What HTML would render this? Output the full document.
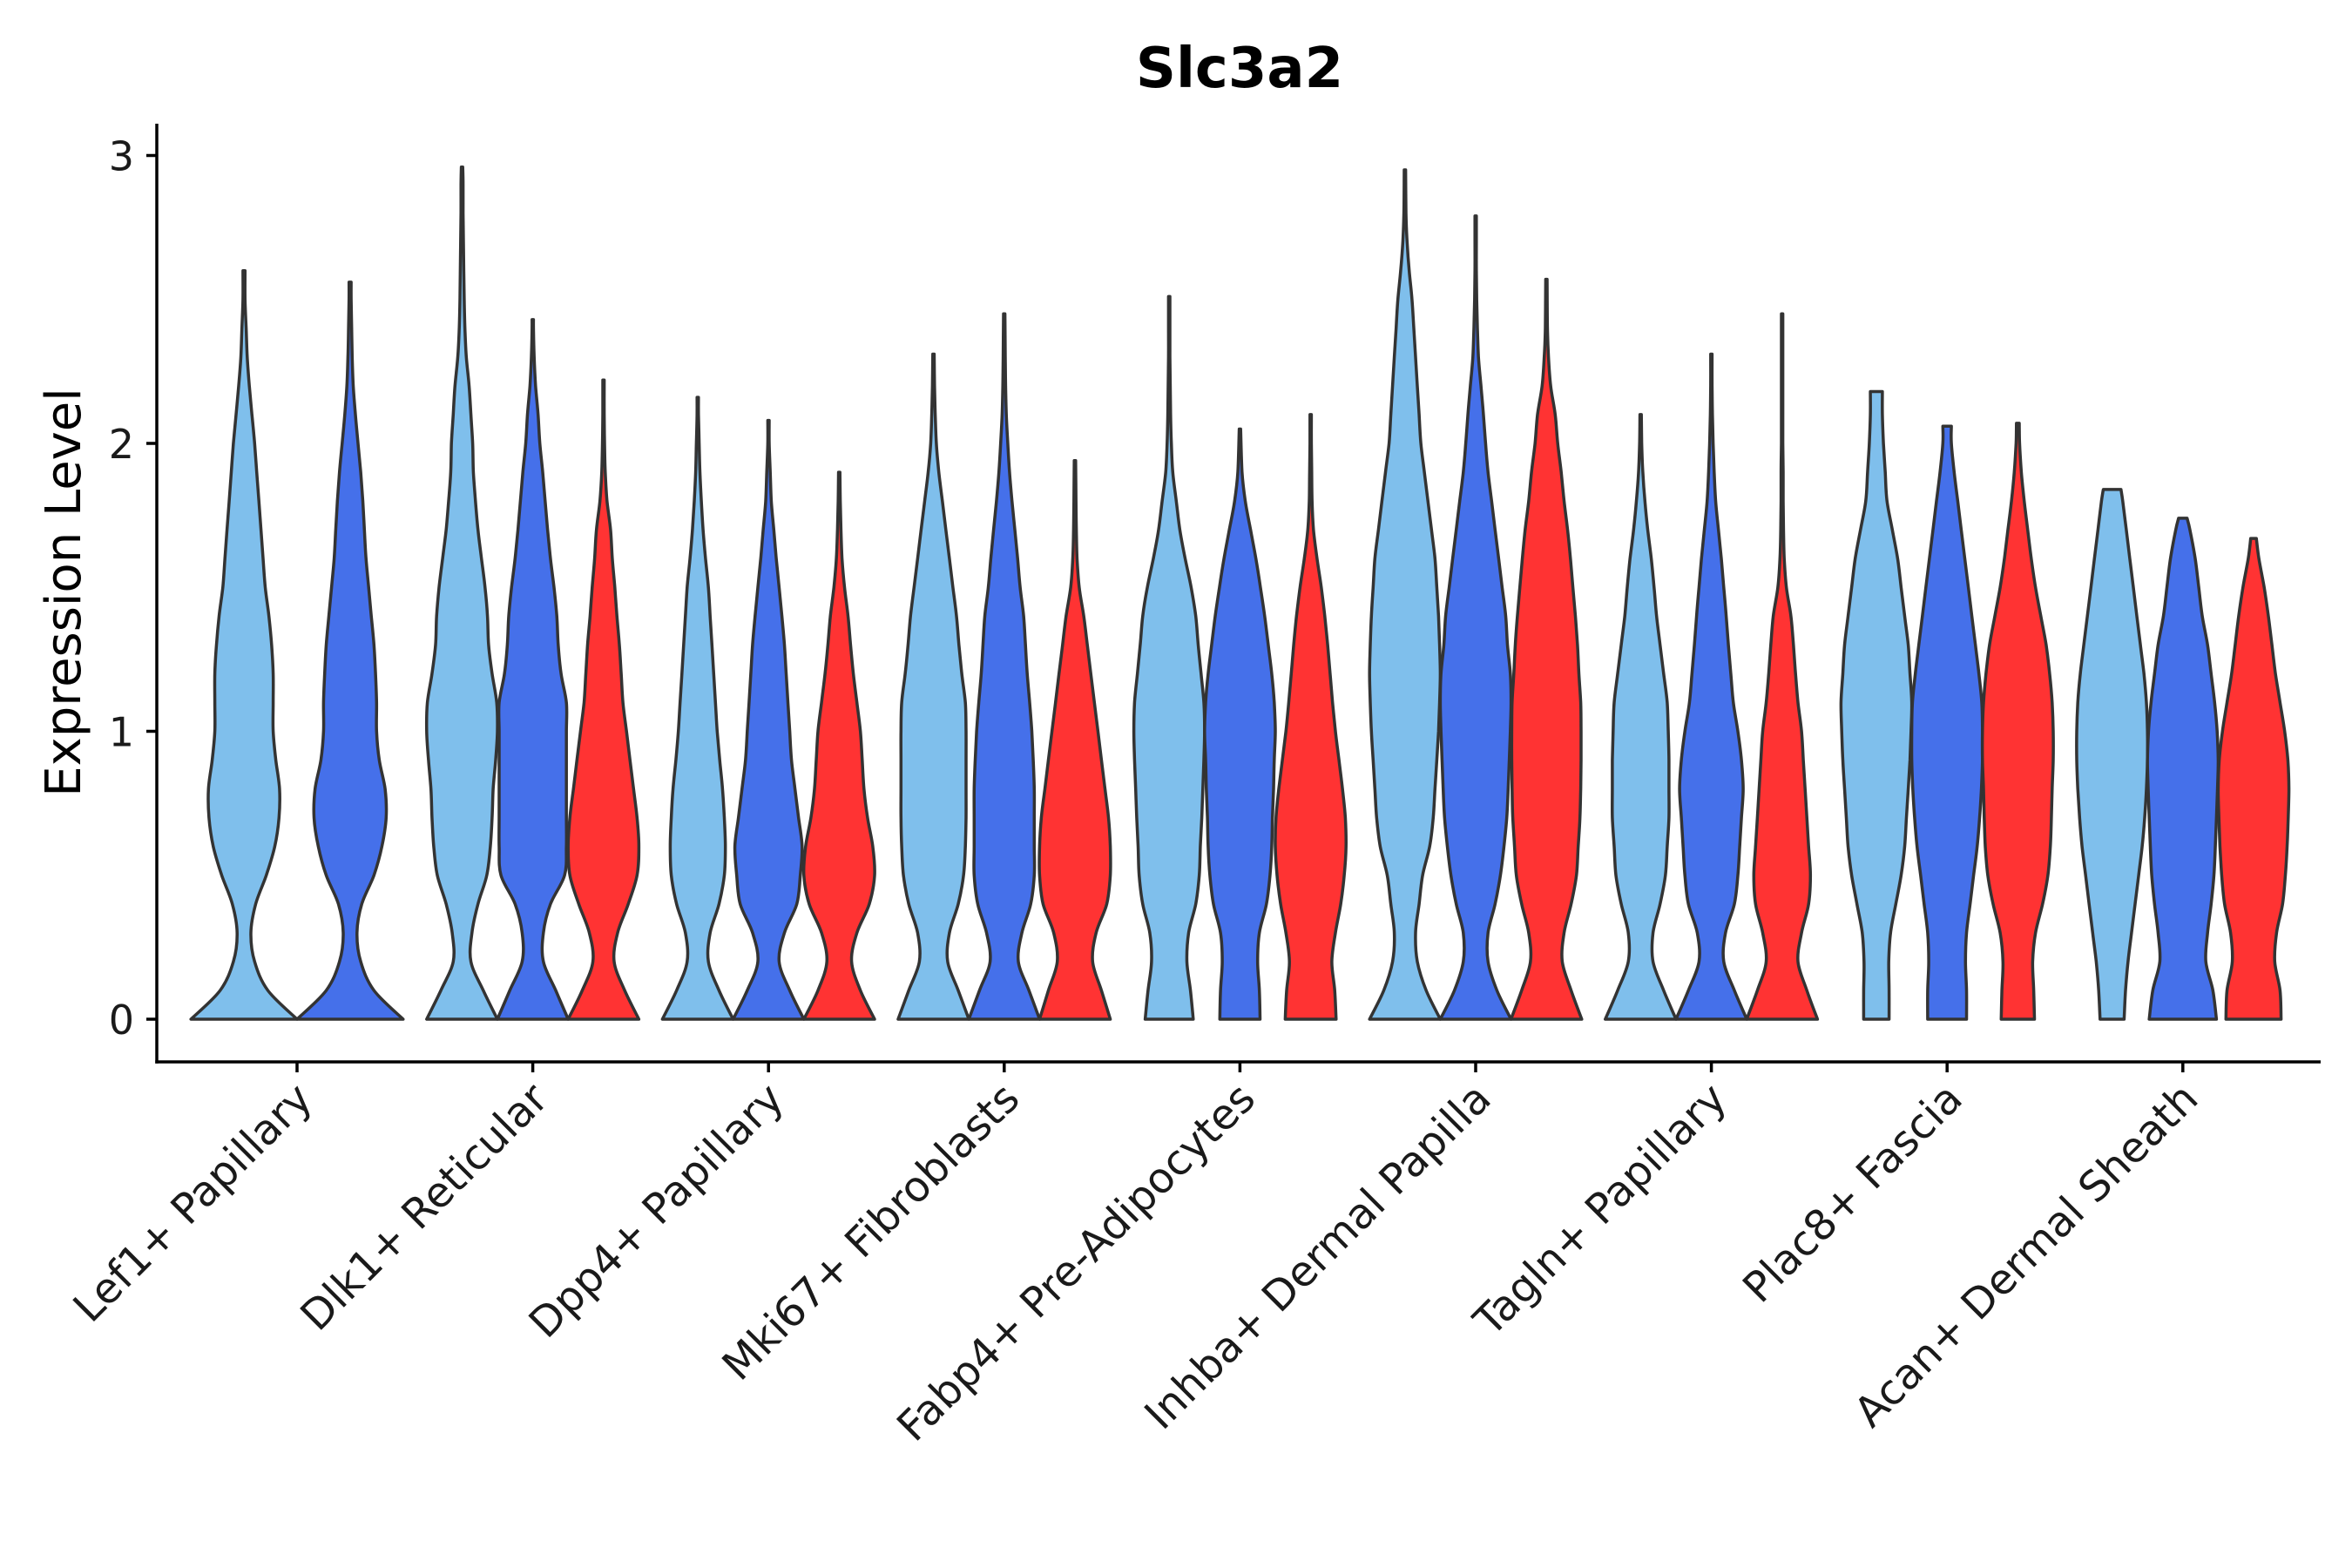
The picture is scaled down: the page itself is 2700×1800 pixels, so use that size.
<!DOCTYPE html>
<html><head><meta charset="utf-8"><style>
html,body{margin:0;padding:0;background:#fff;}
svg{display:block;font-family:"DejaVu Sans","Liberation Sans",sans-serif;}
</style></head><body>
<svg id="chart" width="2700" height="1800" viewBox="0 0 2700 1800" xmlns="http://www.w3.org/2000/svg">
<rect x="0" y="0" width="2700" height="1800" fill="#fff"/>
<text x="1423" y="100" text-anchor="middle" font-size="64" font-weight="bold" fill="#000">Slc3a2</text>
<text transform="translate(92,680) rotate(-90)" text-anchor="middle" font-size="56" fill="#000">Expression Level</text>
<g id="violins"></g>
<g id="axes"></g>
</svg>
<script>
const categories = ["Lef1+ Papillary","Dlk1+ Reticular","Dpp4+ Papillary","Mki67+ Fibroblasts","Fabp4+ Pre-Adipocytes","Inhba+ Dermal Papilla","Tagln+ Papillary","Plac8+ Fascia","Acan+ Dermal Sheath"];
const yTicks = [0,1,2,3];
const seriesColors = ["#7FBFEC","#4570EA","#FF3333"];
const violinMax = [
 [2.6,2.56],[2.96,2.43,2.22],[2.16,2.08,1.9],[2.31,2.45,1.94],[2.51,2.05,2.1],[2.95,2.79,2.57],[2.1,2.31,2.45],[2.18,2.06,2.07],[1.84,1.74,1.67]
];
const violinSeries = [[0,1],[0,1,2],[0,1,2],[0,1,2],[0,1,2],[0,1,2],[0,1,2],[0,1,2],[0,1,2]];
const violinTopWidth = [[.02,.02],[.02,.02,.02],[.02,.02,.02],[.02,.02,.02],[.02,.02,.02],[.02,.02,.02],[.02,.02,.02],[.17,.12,.04],[.25,.12,.08]];
const violinWidths = [
 [[1.0,.45,.2,.13,.22,.42,.58,.66,.67,.6,.55,.55,.55,.52,.47,.4,.36,.32,.28,.24,.2,.15,.1,.06,.04,.02],
  [1.0,.45,.2,.13,.22,.45,.6,.68,.66,.55,.5,.5,.48,.45,.4,.35,.3,.27,.24,.2,.15,.1,.06,.04,.03,.02]],
 [[1.0,.6,.25,.28,.45,.7,.8,.85,.88,.95,1.0,.98,.85,.75,.72,.65,.55,.45,.38,.32,.3,.25,.2,.12,.08,.06,.05,.04,.03,.03],
  [1.0,.65,.3,.3,.5,.9,.95,.95,.95,.95,.95,.95,.8,.72,.68,.6,.5,.42,.35,.28,.2,.15,.08,.04,.02],
  [1.0,.6,.3,.4,.7,.95,1.0,.95,.85,.75,.65,.55,.5,.45,.38,.32,.25,.2,.1,.05,.03,.02]],
 [[1.0,.6,.3,.35,.6,.75,.78,.75,.7,.62,.55,.5,.45,.4,.35,.3,.22,.15,.1,.06,.04,.02],
  [1.0,.6,.3,.45,.8,.9,.95,.85,.75,.65,.6,.55,.5,.45,.38,.3,.22,.15,.08,.05,.02],
  [1.0,.6,.35,.5,.85,1.0,.95,.8,.7,.65,.6,.5,.4,.32,.25,.15,.08,.05,.03]],
 [[1.0,.7,.4,.45,.7,.85,.9,.92,.92,.92,.92,.9,.8,.72,.65,.55,.45,.35,.25,.15,.08,.05,.03],
  [1.0,.7,.4,.5,.75,.85,.85,.85,.85,.82,.78,.72,.65,.6,.55,.45,.38,.3,.22,.15,.1,.06,.04,.03],
  [1.0,.75,.5,.6,.9,1.0,1.0,.95,.85,.75,.65,.55,.45,.35,.25,.12,.06,.04,.03]],
 [[.68,.6,.5,.55,.75,.85,.88,.92,.95,.98,1.0,.98,.9,.82,.75,.62,.45,.3,.2,.1,.06,.04,.03,.02,.02],
  [.57,.55,.5,.55,.75,.85,.9,.92,.95,.97,1.0,.97,.9,.8,.7,.58,.45,.3,.15,.06],
  [.72,.68,.6,.7,.85,.95,1.0,.98,.9,.8,.7,.62,.55,.48,.4,.3,.18,.08,.04,.03,.02]],
 [[1.0,.6,.35,.3,.4,.5,.7,.8,.85,.9,.95,.98,1.0,.98,.95,.9,.85,.75,.65,.55,.45,.4,.35,.3,.25,.2,.12,.06,.03],
  [1.0,.6,.35,.35,.55,.7,.8,.88,.92,.95,.98,1.0,.98,.9,.85,.75,.65,.55,.45,.35,.28,.22,.15,.08,.05,.03,.02,.02],
  [1.0,.7,.45,.5,.7,.85,.9,.95,.97,.98,.98,.97,.92,.88,.82,.75,.68,.6,.5,.42,.32,.25,.12,.06,.03]],
 [[1.0,.65,.35,.35,.55,.7,.75,.8,.8,.8,.78,.75,.65,.55,.45,.38,.3,.2,.12,.06,.03],
  [1.0,.65,.35,.4,.65,.75,.8,.85,.9,.85,.75,.62,.55,.48,.42,.35,.28,.2,.12,.08,.05,.03,.02],
  [1.0,.7,.45,.55,.75,.8,.75,.7,.65,.6,.55,.45,.38,.32,.25,.12,.06,.04,.03,.03,.02,.02,.02,.02]],
 [[.36,.36,.35,.4,.55,.7,.8,.85,.9,.95,.98,1.0,.95,.9,.8,.7,.6,.45,.3,.25,.2,.17],
  [.55,.55,.52,.55,.65,.75,.85,.92,.97,1.0,1.0,.98,.9,.8,.7,.6,.5,.4,.3,.2,.12],
  [.47,.45,.42,.5,.7,.85,.92,.95,.97,1.0,1.0,.97,.9,.8,.65,.5,.38,.28,.18,.1,.05]],
 [[.34,.38,.45,.55,.65,.75,.85,.92,.97,1.0,1.0,.97,.9,.8,.7,.6,.5,.4,.3],
  [.95,.85,.65,.7,.8,.88,.92,.95,.98,1.0,.97,.9,.8,.7,.55,.45,.35,.2],
  [.78,.75,.6,.65,.82,.9,.95,.98,1.0,.97,.88,.75,.62,.52,.42,.3,.15]]
];

const NS="http://www.w3.org/2000/svg";
const plotL=180, plotR=2664, axisY=1219, axisTop=142;
const y0px=1170, unitPx=330.5;
const groupX0=341, groupStep=270.6, dodge=0.9*groupStep;
function yScale(v){return y0px - v*unitPx;}
function xScale(i){return groupX0 + i*groupStep;}

function smoothPath(pts){
  let d="M"+pts[0][0].toFixed(1)+","+pts[0][1].toFixed(1);
  for(let i=0;i<pts.length-1;i++){
    const p0=pts[Math.max(0,i-1)],p1=pts[i],p2=pts[i+1],p3=pts[Math.min(pts.length-1,i+2)];
    const c1=[p1[0]+(p2[0]-p0[0])/6,p1[1]+(p2[1]-p0[1])/6];
    const c2=[p2[0]-(p3[0]-p1[0])/6,p2[1]-(p3[1]-p1[1])/6];
    d+="C"+c1[0].toFixed(1)+","+c1[1].toFixed(1)+" "+c2[0].toFixed(1)+","+c2[1].toFixed(1)+" "+p2[0].toFixed(1)+","+p2[1].toFixed(1);
  }
  return d;
}

const gV=document.getElementById('violins');
categories.forEach((cat,ci)=>{
  const n=violinSeries[ci].length;
  const vw=dodge/n, half=vw/2;
  violinSeries[ci].forEach((si,k)=>{
    const cx=xScale(ci)-dodge/2+vw*(k+0.5);
    const ws=violinWidths[ci][k], mx=violinMax[ci][k], tw=violinTopWidth[ci][k];
    const right=[];
    ws.forEach((w,j)=>{const v=j*0.1; if(v<mx) right.push([cx+w*half, yScale(v)]);});
    right.push([cx+tw*half, yScale(mx)]);
    const left=right.slice().reverse().map(p=>[2*cx-p[0],p[1]]);
    let d=smoothPath(right);
    d+="L"+left[0][0].toFixed(1)+","+left[0][1].toFixed(1);
    d+=smoothPath(left).replace(/^M[^C]*/,'');
    d+="Z";
    const p=document.createElementNS(NS,'path');
    p.setAttribute('d',d);
    p.setAttribute('fill',seriesColors[si]);
    p.setAttribute('stroke','#333333');
    p.setAttribute('stroke-width','3.5');
    p.setAttribute('stroke-linejoin','round');
    
    
    gV.appendChild(p);
  });
});

const gA=document.getElementById('axes');
function line(x1,y1,x2,y2,name){
  const l=document.createElementNS(NS,'line');
  l.setAttribute('x1',x1);l.setAttribute('y1',y1);l.setAttribute('x2',x2);l.setAttribute('y2',y2);
  l.setAttribute('stroke','#000');l.setAttribute('stroke-width','3.5');
  
  
  gA.appendChild(l);
}
line(plotL,axisTop,plotL,axisY+1.75,'y-axis-line');
line(plotL-1.75,axisY,plotR,axisY,'x-axis-line');
yTicks.forEach(t=>{
  line(plotL-12,yScale(t),plotL,yScale(t),'y-tick');
  const tx=document.createElementNS(NS,'text');
  tx.setAttribute('x',plotL-26);tx.setAttribute('y',yScale(t)+17);
  tx.setAttribute('text-anchor','end');tx.setAttribute('font-size','46');tx.setAttribute('fill','#1a1a1a');
  tx.textContent=t;
  
  
  gA.appendChild(tx);
});
categories.forEach((c,i)=>{
  const x=xScale(i);
  line(x,axisY,x,axisY+12,'x-tick');
  const tx=document.createElementNS(NS,'text');
  const ax=x+20, ay=1264;
  tx.setAttribute('transform','translate('+ax+','+ay+') rotate(-45)');
  tx.setAttribute('text-anchor','end');tx.setAttribute('font-size','48');tx.setAttribute('fill','#1a1a1a');
  tx.textContent=c;
  
  
  gA.appendChild(tx);
});
</script>
</body></html>
